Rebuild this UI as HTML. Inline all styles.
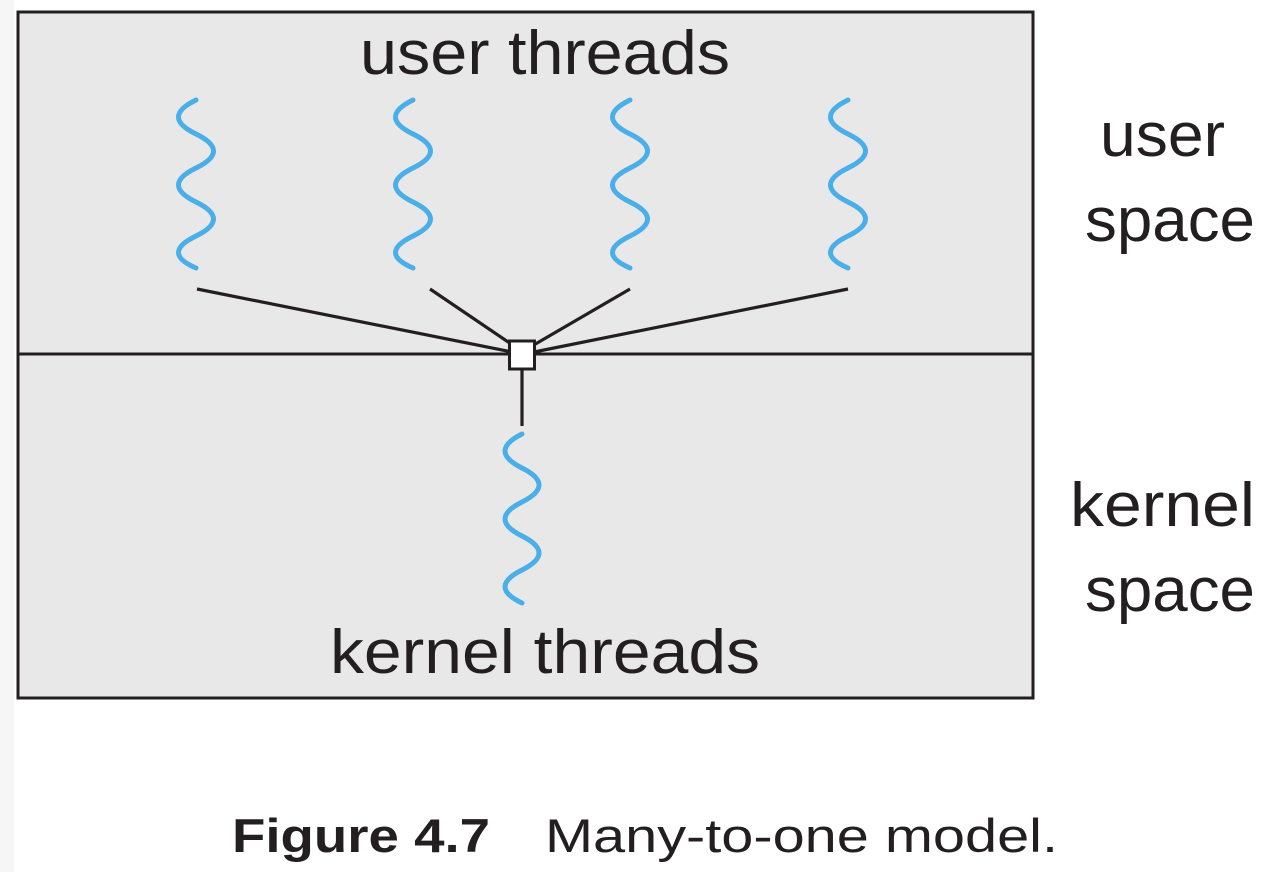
<!DOCTYPE html>
<html><head><meta charset="utf-8"><style>
html,body{margin:0;padding:0;background:#fff;}
svg{display:block;}
text{font-family:"Liberation Sans",sans-serif;fill:#231f20;}
</style></head><body>
<svg width="1282" height="872" viewBox="0 0 1282 872" xmlns="http://www.w3.org/2000/svg">
<rect x="0" y="0" width="14" height="872" fill="#f6f6f6"/>
<rect x="18" y="12" width="1015" height="686" fill="#e8e8e8" stroke="#231f20" stroke-width="3"/>
<line x1="18" y1="354" x2="1033" y2="354" stroke="#231f20" stroke-width="3"/>
<g stroke="#231f20" stroke-width="3.2" fill="none">
<line x1="197" y1="289" x2="512" y2="352"/>
<line x1="430" y1="289" x2="514" y2="346"/>
<line x1="630" y1="289" x2="532" y2="346"/>
<line x1="848" y1="289" x2="534" y2="352"/>
<line x1="522" y1="370" x2="522" y2="426"/>
</g>
<rect x="509.5" y="341" width="25" height="28" fill="#fff" stroke="#231f20" stroke-width="3"/>
<g stroke="#4aaee8" stroke-width="5" fill="none" stroke-linecap="round">
<path d="M196,100 Q161,117 196,134 T196,168 T196,202 T196,236 T196,268"/>
<path d="M413,100 Q378,117 413,134 T413,168 T413,202 T413,236 T413,268"/>
<path d="M630,100 Q595,117 630,134 T630,168 T630,202 T630,236 T630,268"/>
<path d="M848,100 Q813,117 848,134 T848,168 T848,202 T848,236 T848,268"/>
<path d="M522,434 Q488,451 522,468 T522,502 T522,536 T522,570 T522,603"/>
</g>
<text x="360" y="74" font-size="62" textLength="370" lengthAdjust="spacingAndGlyphs">user threads</text>
<text x="330" y="673" font-size="62" textLength="430" lengthAdjust="spacingAndGlyphs">kernel threads</text>
<text x="1100" y="156" font-size="62" textLength="125" lengthAdjust="spacingAndGlyphs">user</text>
<text x="1085" y="241" font-size="62" textLength="170" lengthAdjust="spacingAndGlyphs">space</text>
<text x="1070" y="526" font-size="62" textLength="185" lengthAdjust="spacingAndGlyphs">kernel</text>
<text x="1085" y="611" font-size="62" textLength="170" lengthAdjust="spacingAndGlyphs">space</text>
<text x="232" y="852" font-size="47" font-weight="bold" textLength="258" lengthAdjust="spacingAndGlyphs">Figure 4.7</text>
<text x="545" y="852" font-size="47" textLength="513" lengthAdjust="spacingAndGlyphs">Many-to-one model.</text>
</svg>
</body></html>
